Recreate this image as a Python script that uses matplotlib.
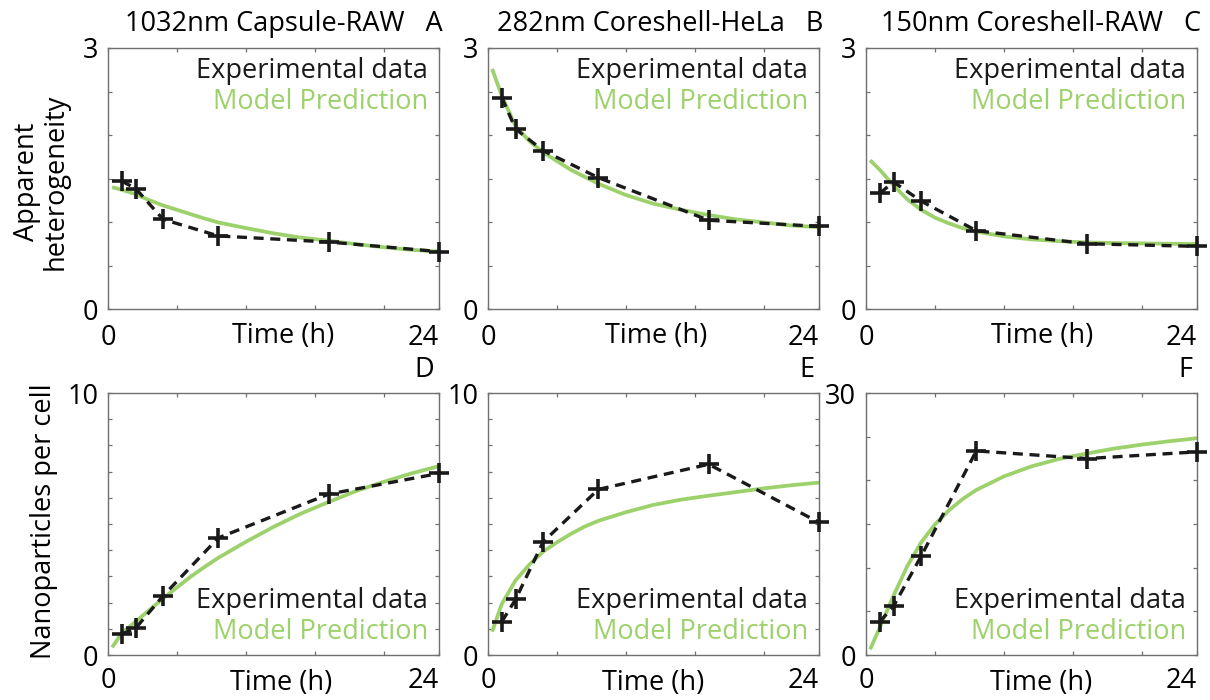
"""Apparent heterogeneity and nanoparticle uptake: data vs model."""

import matplotlib
matplotlib.use("Agg")
import matplotlib.pyplot as plt

plt.rcParams["font.family"] = ["Open Sans", "DejaVu Sans"]

GREEN = "#9dd16b"
FRAME = "#707070"

# measurement times (h)
time_exp = [1, 2, 4, 8, 16, 24]
time_model = [0.3, 1, 2, 3, 4, 5, 6, 7, 8, 10, 12, 14, 16, 18, 20, 22, 24]

# --- top row: apparent heterogeneity ---
het_exp_a = [1.47, 1.385, 1.03, 0.84, 0.77, 0.66]
het_model_a = [1.40, 1.37, 1.32, 1.25, 1.19, 1.14, 1.09, 1.04, 0.995,
               0.93, 0.87, 0.82, 0.785, 0.745, 0.71, 0.68, 0.66]

het_exp_b = [2.43, 2.07, 1.82, 1.51, 1.02, 0.95]
het_model_b = [2.76, 2.45, 2.10, 1.93, 1.80, 1.70, 1.60, 1.52, 1.44,
               1.31, 1.21, 1.14, 1.08, 1.03, 0.995, 0.96, 0.94]

het_exp_c = [1.33, 1.46, 1.24, 0.90, 0.75, 0.72]
het_model_c = [1.71, 1.60, 1.42, 1.26, 1.14, 1.05, 0.985, 0.93, 0.89,
               0.835, 0.80, 0.78, 0.765, 0.758, 0.754, 0.75, 0.746]

# --- bottom row: nanoparticles per cell ---
np_exp_d = [0.80, 1.02, 2.26, 4.47, 6.14, 6.93]
np_model_d = [0.29, 0.84, 1.27, 1.72, 2.16, 2.58, 2.99, 3.36, 3.71,
              4.32, 4.89, 5.40, 5.84, 6.26, 6.61, 6.93, 7.21]

np_exp_e = [1.27, 2.12, 4.32, 6.32, 7.28, 5.06]
np_model_e = [0.89, 1.95, 2.85, 3.45, 3.95, 4.30, 4.62, 4.90, 5.12,
              5.45, 5.73, 5.93, 6.08, 6.22, 6.36, 6.48, 6.58]

np_exp_f = [3.81, 5.60, 11.32, 23.37, 22.49, 23.26]
np_model_f = [0.65, 3.15, 6.80, 10.2, 12.9, 14.95, 16.55, 17.85, 18.9,
              20.45, 21.6, 22.45, 23.07, 23.64, 24.09, 24.48, 24.82]

titles = ["1032nm Capsule-RAW   A", "282nm Coreshell-HeLa   B",
          "150nm Coreshell-RAW   C"]
letters = ["D", "E", "F"]
top_exp = [het_exp_a, het_exp_b, het_exp_c]
top_model = [het_model_a, het_model_b, het_model_c]
bottom_exp = [np_exp_d, np_exp_e, np_exp_f]
bottom_model = [np_model_d, np_model_e, np_model_f]
bottom_ymax = [10, 10, 30]
bottom_ystep = [1, 1, 5]
xlabel_pos_top = [0.529, 0.508, 0.532]
xlabel_pos_bottom = [0.523, 0.498, 0.529]

FS = 19.5

fig = plt.figure(figsize=(12.1, 7), dpi=100)
lefts = [108 / 1210, 488 / 1210, 866 / 1210]
width = 331 / 1210


def style_axes(ax, ymax, ystep, pad):
    ax.set_xlim(0, 24)
    ax.set_ylim(0, ymax)
    ax.set_xticks([0, 5, 10, 15, 20, 24])
    ax.set_xticklabels(["0", "", "", "", "", "24"])
    # keep the "24" inside the figure, as in the original
    ax.get_xticklabels()[-1].set_horizontalalignment("right")
    n = int(round(ymax / ystep))
    yt = [i * ystep for i in range(n + 1)]
    ax.set_yticks(yt)
    ax.set_yticklabels(["0"] + [""] * (n - 1) + [str(ymax)])
    ax.tick_params(direction="in", top=True, right=True, length=3,
                   width=0.9, color=FRAME, labelsize=FS, pad=pad)
    ax.tick_params(axis="y", pad=7)
    for spine in ax.spines.values():
        spine.set_color(FRAME)
        spine.set_linewidth(1.0)


def draw_series(ax, exp, model):
    ax.plot(time_model, model, color=GREEN, lw=2.7, solid_capstyle="butt",
            solid_joinstyle="round", zorder=2)
    ax.plot(time_exp, exp, color="#1a1a1a", lw=2.4, ls=(0, (3.0, 2.0)),
            marker="+", markersize=14, markeredgewidth=2.6,
            markeredgecolor="#1a1a1a", clip_on=False, zorder=3)


for i in range(3):
    ax = fig.add_axes([lefts[i], 391 / 700, width, 261 / 700])
    draw_series(ax, top_exp[i], top_model[i])
    style_axes(ax, 3, 0.5, 11)
    ax.text(1.012, 1.092, titles[i], transform=ax.transAxes, ha="right",
            va="center", fontsize=FS)
    ax.text(0.967, 0.885, "Experimental data", transform=ax.transAxes,
            ha="right", va="baseline", fontsize=FS, color="#1a1a1a")
    ax.text(0.967, 0.766, "Model Prediction", transform=ax.transAxes,
            ha="right", va="baseline", fontsize=FS, color=GREEN)
    ax.text(xlabel_pos_top[i], -0.130, "Time (h)", transform=ax.transAxes,
            ha="center", va="baseline", fontsize=FS)
    if i == 0:
        ax.text(-0.201, 0.487, "Apparent\nheterogeneity",
                transform=ax.transAxes, ha="center", va="center",
                rotation=90, fontsize=FS, linespacing=1.05)

for i in range(3):
    ax = fig.add_axes([lefts[i], 45 / 700, width, 262 / 700])
    draw_series(ax, bottom_exp[i], bottom_model[i])
    style_axes(ax, bottom_ymax[i], bottom_ystep[i], 9)
    ax.text(0.985, 1.088, letters[i], transform=ax.transAxes, ha="right",
            va="center", fontsize=FS)
    ax.text(0.967, 0.179, "Experimental data", transform=ax.transAxes,
            ha="right", va="baseline", fontsize=FS, color="#1a1a1a")
    ax.text(0.967, 0.061, "Model Prediction", transform=ax.transAxes,
            ha="right", va="baseline", fontsize=FS, color=GREEN)
    ax.text(xlabel_pos_bottom[i], -0.134, "Time (h)", transform=ax.transAxes,
            ha="center", va="baseline", fontsize=FS)
    if i == 0:
        ax.text(-0.193, 0.511, "Nanoparticles per cell",
                transform=ax.transAxes, ha="center", va="center",
                rotation=90, fontsize=FS)

fig.savefig("out.png", dpi=100)
plt.close(fig)
